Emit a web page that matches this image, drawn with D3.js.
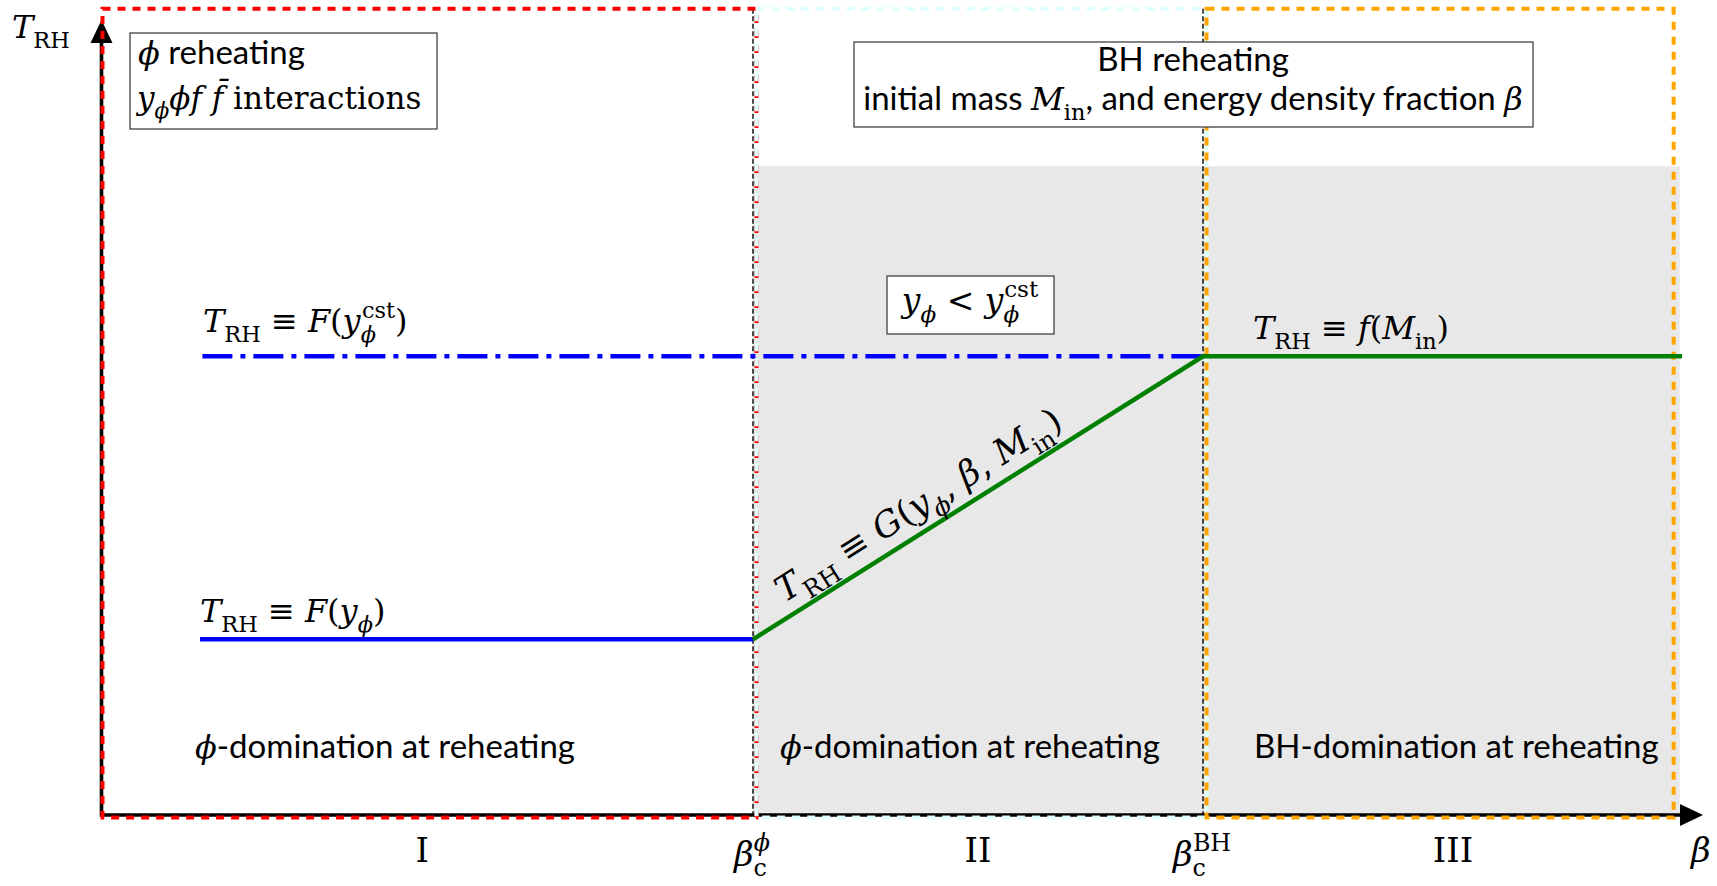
<!DOCTYPE html>
<meta charset="utf-8">
<style>
body{
  margin: 0;
  background: white;
}
svg{
  display: block;
}
.serif{ font-family: "DejaVu Serif", "Liberation Serif", serif; }
.sans{ font-family: Lato, "DejaVu Sans", sans-serif; }
</style>
<body>
<script src="https://cdn.jsdelivr.net/npm/d3@7"></script>
<script>

// region edges along the beta axis (schematic units, 0..100)
var betaBounds = [0, 40.68, 68.78, 97.95]
var regionNames = ['I', 'II', 'III']
var regionColors = ['#ff0000', '#e0ffff', '#ffa500']
var regionText = ['ϕ-domination at reheating', 'ϕ-domination at reheating', 'BH-domination at reheating']

// reheating temperature levels (schematic units, 0..100)
var tLow = 22.1
var tHigh = 57.7
var shadeTop = 81.6
var boxTop = 101.4
var shadeX = [40.68, 98.55]

// the three curves
var lineF    = [[6.15, tLow], [40.68, tLow]]
var lineFcst = [[6.3, tHigh], [68.78, tHigh]]
var lineG    = [[40.68, tLow], [68.78, tHigh], [98.69, tHigh]]

var W = 1717, H = 886
var svg = d3.select('body').append('svg')
    .attr('width', W).attr('height', H)

var x = d3.scaleLinear().domain([0, 100]).range([101.5, 1703])
var y = d3.scaleLinear().domain([0, 100]).range([815, 20])

var ms = 32  // math font size
var ss = 33  // sans font size

// text with sub/superscripts. kinds: i = italic serif, r = roman serif,
// s = sans, sub/sup = small roman, subi/supi = small italic
function mathText(g, parts, size){
  var t = g.append('text').attr('font-size', size).attr('fill', '#000')
  var shift = 0
  parts.forEach(function(p){
    var str = p[0], kind = p[1], dx = p[2]
    var isSub = kind == 'sub' || kind == 'subi'
    var isSup = kind == 'sup' || kind == 'supi'
    var target = isSub ? 0.3*size : isSup ? -0.45*size : 0
    var ts = t.append('tspan').text(str)
    if (target - shift != 0) ts.attr('dy', target - shift)
    shift = target
    if (dx) ts.attr('dx', dx)
    if (isSub || isSup) ts.attr('font-size', 0.7*size)
    if (kind == 's') ts.attr('class', 'sans').attr('font-size', ss*size/ms)
    else ts.attr('class', 'serif')
    if (kind == 'i' || kind == 'subi' || kind == 'supi') ts.attr('font-style', 'italic')
  })
  return t
}

// shaded area (regions II and III, below shadeTop)
svg.append('rect')
    .attr('x', x(shadeX[0])).attr('y', y(shadeTop))
    .attr('width', x(shadeX[1]) - x(shadeX[0]))
    .attr('height', y(0) - y(shadeTop))
    .attr('fill', '#e8e8e8')

// thin black dashed separators
svg.selectAll('.sep').data(betaBounds.slice(1, 3)).enter().append('line')
    .attr('class', 'sep')
    .attr('x1', function(d){ return x(d) }).attr('x2', function(d){ return x(d) })
    .attr('y1', y(boxTop)).attr('y2', y(0))
    .attr('stroke', '#000').attr('stroke-width', 1.4)
    .attr('stroke-dasharray', '5,2.5')

// axes
var axisW = 3.6
svg.append('g')
    .attr('transform', 'translate(0,' + y(0) + ')')
    .call(d3.axisBottom(x).tickValues([]).tickSizeOuter(0))
    .call(function(g){
      g.select('.domain').attr('stroke-width', axisW)
        .attr('d', 'M' + x(0) + ',0H' + (x(100) - 18))
    })
svg.append('g')
    .attr('transform', 'translate(' + x(0) + ',0)')
    .call(d3.axisLeft(y).tickValues([]).tickSizeOuter(0))
    .call(function(g){
      g.select('.domain').attr('stroke-width', axisW)
        .attr('d', 'M0,' + (y(0) + axisW/2) + 'V' + (y(100) + 18))
    })
svg.append('path')
    .attr('d', 'M' + x(100) + ',' + y(0) + 'L' + (x(100) - 23) + ',' + (y(0) - 11) +
               'L' + (x(100) - 23) + ',' + (y(0) + 11) + 'Z')
svg.append('path')
    .attr('d', 'M' + x(0) + ',' + y(100) + 'L' + (x(0) - 11) + ',' + (y(100) + 23) +
               'L' + (x(0) + 11) + ',' + (y(100) + 23) + 'Z')

// dashed region boxes
svg.selectAll('.region').data(regionColors).enter().append('rect')
    .attr('class', 'region')
    .attr('x', function(d, i){ return i == 0 ? x(betaBounds[0]) + 1 : x(betaBounds[i]) + 3.5 })
    .attr('y', y(boxTop))
    .attr('width', function(d, i){
      var x0 = i == 0 ? x(betaBounds[0]) + 1 : x(betaBounds[i]) + 3.5
      return x(betaBounds[i + 1]) + 3.5 - x0
    })
    .attr('height', y(0) + 2.5 - y(boxTop))
    .attr('fill', 'none')
    .attr('stroke', function(d){ return d })
    .attr('stroke-width', 4)
    .attr('stroke-dasharray', '8,7')

// curves
var line = d3.line().x(function(d){ return x(d[0]) }).y(function(d){ return y(d[1]) })
svg.append('path').attr('d', line(lineFcst))
    .attr('fill', 'none').attr('stroke', '#0000ff').attr('stroke-width', 4.5)
    .attr('stroke-dasharray', '30,8,5,8')
svg.append('path').attr('d', line(lineF))
    .attr('fill', 'none').attr('stroke', '#0000ff').attr('stroke-width', 4.5)
svg.append('path').attr('d', line(lineG))
    .attr('fill', 'none').attr('stroke', '#008000').attr('stroke-width', 4.5)

// axis labels
mathText(svg.append('g').attr('transform', 'translate(12,38)'), [['T', 'i'], ['RH', 'sub']], ms)
mathText(svg.append('g').attr('transform', 'translate(1691,862)'), [['β', 'i']], 34)

// tick labels at the critical betas
var tickLabels = [
  [['β', 'i'], ['c', 'sub'], ['ϕ', 'supi', -13]],
  [['β', 'i'], ['c', 'sub'], ['BH', 'sup', -13]]
]
tickLabels.forEach(function(parts, i){
  mathText(svg.append('g').attr('transform', 'translate(' + (x(betaBounds[i + 1]) - 1) + ',866)'), parts, 34)
    .attr('text-anchor', 'middle')
})

// region numerals
regionNames.forEach(function(d, i){
  var x1 = i == 2 ? 100 : betaBounds[i + 1]
  svg.append('text').attr('class', 'serif')
      .attr('x', (x(betaBounds[i]) + x(x1)) / 2 - (i == 0 ? 5 : 0)).attr('y', 862)
      .attr('text-anchor', 'middle').attr('font-size', 34)
      .text(d)
})

// domination labels
var domX = [195, 780, 1254]
regionText.forEach(function(d, i){
  var parts = d[0] == 'ϕ' ? [['ϕ', 'i'], [d.slice(1), 's']] : [[d, 's']]
  mathText(svg.append('g').attr('transform', 'translate(' + domX[i] + ',758)'), parts, ms)
})

// curve labels
mathText(svg.append('g').attr('transform', 'translate(203,332)'),
  [['T', 'i'], ['RH', 'sub'], [' ≡ ', 'r'], ['F', 'i'], ['(', 'r'], ['y', 'i'],
   ['ϕ', 'subi'], ['cst', 'sup', -14], [')', 'r']], ms)
mathText(svg.append('g').attr('transform', 'translate(200,622)'),
  [['T', 'i'], ['RH', 'sub'], [' ≡ ', 'r'], ['F', 'i'], ['(', 'r'], ['y', 'i'],
   ['ϕ', 'subi'], [')', 'r']], ms)
mathText(svg.append('g').attr('transform', 'translate(1253,339)'),
  [['T', 'i'], ['RH', 'sub'], [' ≡ ', 'r'], ['f', 'i'], ['(', 'r'], ['M', 'i'],
   ['in', 'sub'], [')', 'r']], ms)

// rotated label along the G segment
var p0 = [x(lineG[0][0]), y(lineG[0][1])], p1 = [x(lineG[1][0]), y(lineG[1][1])]
var ang = Math.atan2(p1[1] - p0[1], p1[0] - p0[0])
var along = 46, perp = 14
var px = p0[0] + along*Math.cos(ang) + perp*Math.sin(ang)
var py = p0[1] + along*Math.sin(ang) - perp*Math.cos(ang)
mathText(svg.append('g').attr('transform', 'translate(' + px + ',' + py + ') rotate(' + ang*180/Math.PI + ')'),
  [['T', 'i'], ['RH', 'sub'], [' ≡ ', 'r'], ['G', 'i'], ['(', 'r'], ['y', 'i'],
   ['ϕ', 'subi'], [', ', 'r'], ['β', 'i'], [', ', 'r'], ['M', 'i'], ['in', 'sub'], [')', 'r']], 35)

// framed boxes
function framed(x0, y0, w, h){
  svg.append('rect').attr('x', x0).attr('y', y0).attr('width', w).attr('height', h)
      .attr('fill', '#fff').attr('stroke', '#333').attr('stroke-width', 1.2)
}
framed(130, 33, 307, 96)
mathText(svg.append('g').attr('transform', 'translate(138,64)'),
  [['ϕ', 'i'], [' reheating', 's']], ms)
mathText(svg.append('g').attr('transform', 'translate(137,109)'),
  [['y', 'i'], ['ϕ', 'subi'], ['ϕ', 'i'], ['f f\u0304', 'i'], [' interactions', 'r']], 31)

framed(854, 42, 679, 85)
mathText(svg.append('g').attr('transform', 'translate(1193,71)'),
  [['BH reheating', 's']], ms).attr('text-anchor', 'middle')
mathText(svg.append('g').attr('transform', 'translate(1193,110)'),
  [['initial mass ', 's'], ['M', 'i'], ['in', 'sub'], [', and energy density fraction ', 's'], ['β', 'i']], ms)
  .attr('text-anchor', 'middle')

framed(887, 276, 167, 58)
mathText(svg.append('g').attr('transform', 'translate(970,312)'),
  [['y', 'i'], ['ϕ', 'subi'], [' < ', 'r'], ['y', 'i'], ['ϕ', 'subi'], ['cst', 'sup', -15]], 33)
  .attr('text-anchor', 'middle')

</script>
</body>
